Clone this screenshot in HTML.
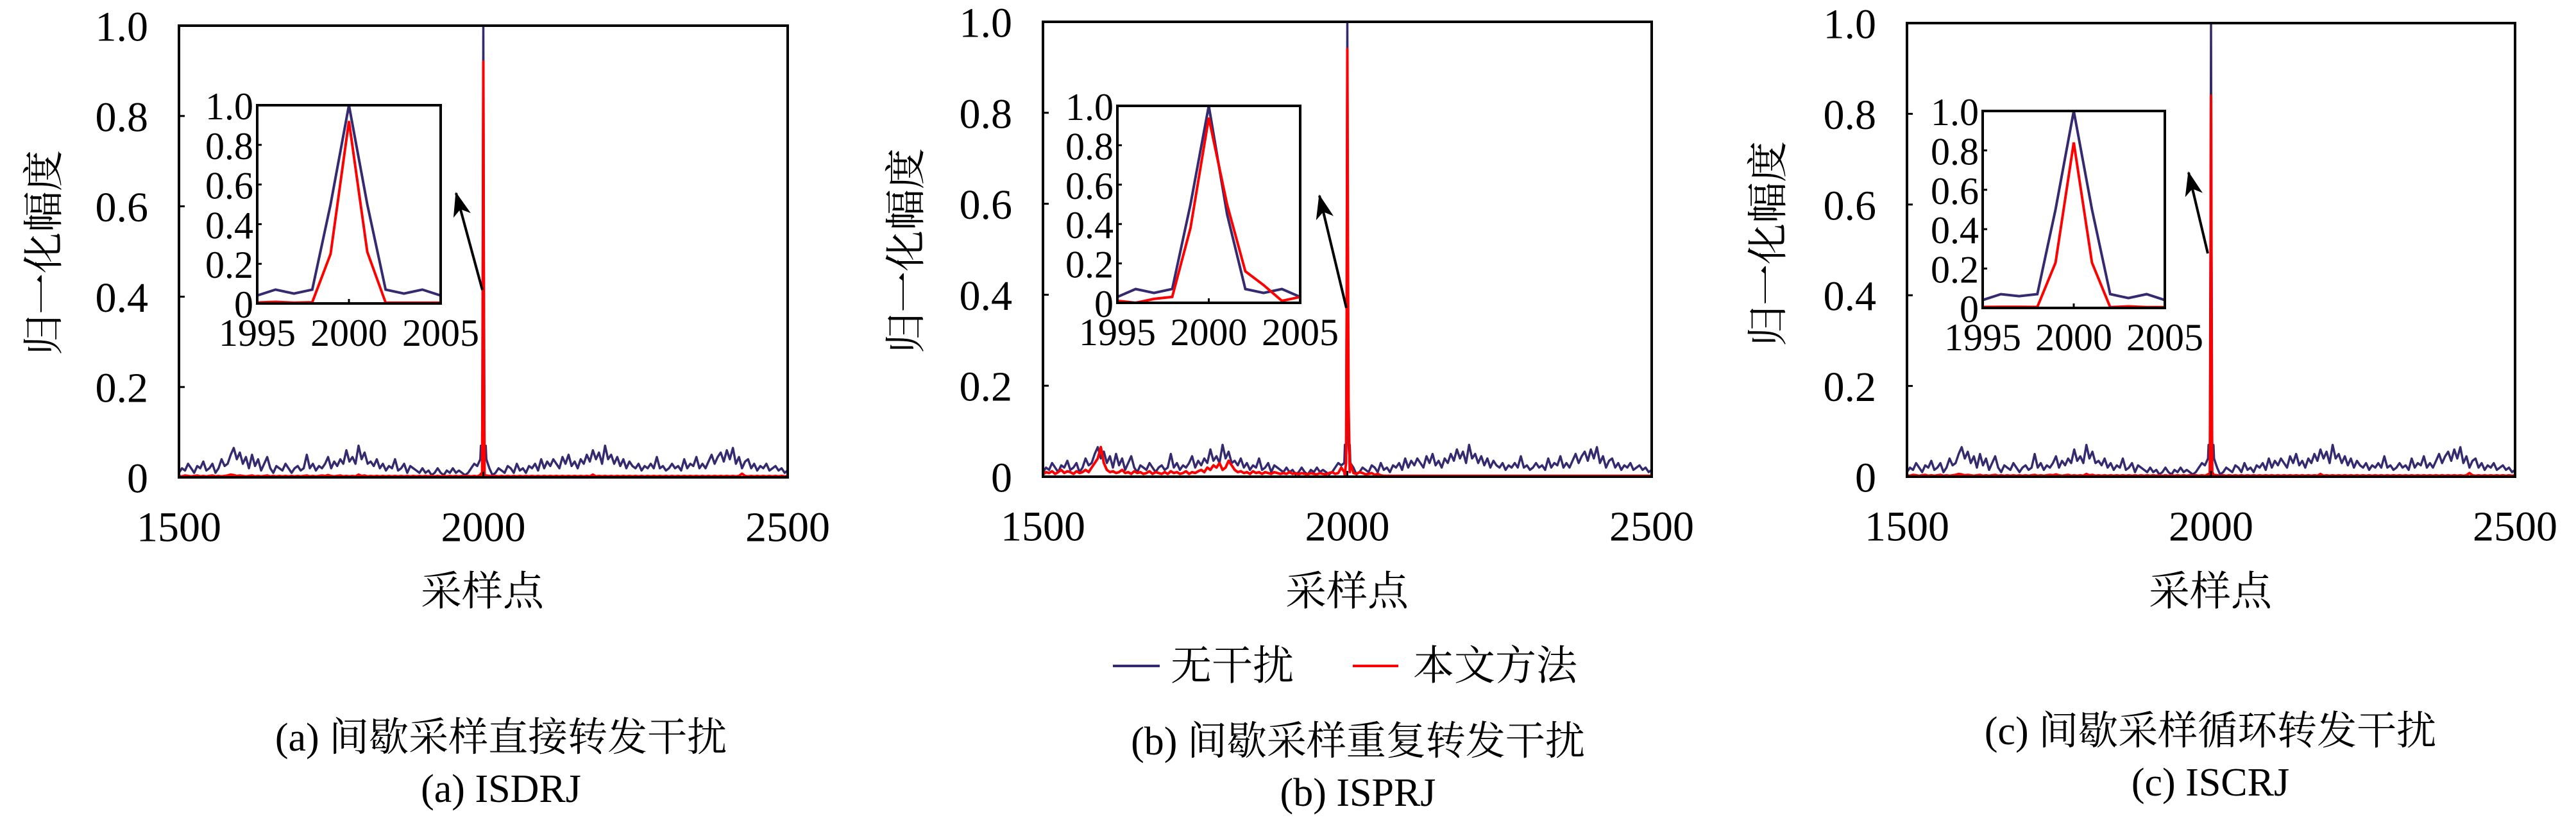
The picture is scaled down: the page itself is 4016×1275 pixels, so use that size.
<!DOCTYPE html>
<html><head><meta charset="utf-8">
<style>
html,body{margin:0;padding:0;background:#fff;}
svg text{font-family:"Liberation Serif","Noto Serif CJK SC","Noto Sans CJK SC",serif;fill:#000;}
</style></head>
<body>
<svg id="fig" width="4016" height="1270" viewBox="0 0 4016 1270" xmlns="http://www.w3.org/2000/svg">
<defs>
<marker id="ah" markerWidth="40" markerHeight="40" refX="36" refY="14" orient="auto" markerUnits="userSpaceOnUse" viewBox="0 0 40 28">
<path d="M0,0 L38,14 L0,28 L10,14 z" fill="#000"/>
</marker>
</defs>
</svg>
<script>
// ---- data ----
const noiseStart = 1500;
const noiseStep = 5;
const blueNoise = [
0.01,0.02,0.015,0.03,0.02,0.01,0.025,0.02,0.035,0.015,0.02,0.03,0.01,0.02,0.04,0.025,0.03,0.05,0.065,0.04,
0.055,0.03,0.045,0.02,0.05,0.025,0.04,0.015,0.03,0.045,0.02,0.01,0.025,0.02,0.015,0.03,0.02,0.01,0.02,0.025,
0.015,0.02,0.05,0.02,0.03,0.015,0.025,0.02,0.03,0.045,0.02,0.035,0.025,0.04,0.03,0.06,0.035,0.045,0.03,0.07,
0.04,0.055,0.03,0.035,0.025,0.04,0.02,0.03,0.015,0.025,0.02,0.04,0.015,0.02,0.03,0.01,0.025,0.02,0.015,0.01,
0.02,0.01,0.015,0.005,0.01,0.02,0.01,0.005,0.015,0.01,0.02,0.01,0.015,0.01,0.005,0.01,0.02,0.03,0.025,0.04,
0.03,0.01,0.02,0.005,0.01,0.02,0.015,0.01,0.025,0.02,0.01,0.03,0.015,0.02,0.01,0.025,0.02,0.03,0.015,0.04,
0.02,0.035,0.025,0.04,0.03,0.02,0.045,0.03,0.05,0.025,0.035,0.02,0.04,0.03,0.05,0.035,0.06,0.04,0.055,0.03,
0.07,0.04,0.05,0.03,0.045,0.025,0.04,0.02,0.035,0.025,0.02,0.03,0.015,0.025,0.02,0.03,0.02,0.045,0.02,0.025,
0.015,0.02,0.03,0.02,0.025,0.015,0.04,0.02,0.03,0.025,0.045,0.02,0.03,0.02,0.035,0.05,0.03,0.045,0.055,0.035,
0.06,0.04,0.065,0.03,0.045,0.02,0.035,0.04,0.02,0.03,0.015,0.025,0.02,0.03,0.015,0.02,0.025,0.015,0.02,0.01,0.015];
const redNoiseAC = [
0.003,0.002,0.004,0.003,0.002,0.003,0.004,0.002,0.003,0.002,0.003,0.004,0.002,0.003,0.002,0.003,0.004,0.006,0.005,0.003,
0.004,0.003,0.002,0.003,0.004,0.002,0.003,0.002,0.003,0.004,0.002,0.003,0.002,0.003,0.002,0.003,0.002,0.003,0.002,0.003,
0.002,0.003,0.004,0.002,0.003,0.002,0.003,0.004,0.003,0.005,0.003,0.002,0.003,0.004,0.002,0.003,0.002,0.003,0.002,0.006,
0.003,0.004,0.002,0.003,0.002,0.003,0.002,0.003,0.002,0.003,0.002,0.003,0.002,0.003,0.002,0.003,0.002,0.003,0.002,0.003,
0.002,0.003,0.002,0.003,0.002,0.003,0.002,0.003,0.002,0.003,0.002,0.003,0.002,0.003,0.002,0.003,0.002,0.003,0.002,0.003,
0.003,0.002,0.003,0.002,0.003,0.002,0.003,0.002,0.003,0.002,0.003,0.002,0.003,0.002,0.003,0.002,0.003,0.002,0.003,0.002,
0.003,0.002,0.003,0.002,0.003,0.002,0.003,0.002,0.003,0.002,0.003,0.002,0.003,0.002,0.003,0.002,0.006,0.002,0.003,0.002,
0.003,0.002,0.003,0.002,0.003,0.002,0.003,0.002,0.003,0.002,0.003,0.002,0.003,0.002,0.003,0.002,0.003,0.002,0.003,0.002,
0.003,0.002,0.003,0.002,0.003,0.002,0.003,0.002,0.003,0.002,0.003,0.002,0.003,0.002,0.003,0.002,0.003,0.002,0.003,0.002,
0.003,0.002,0.003,0.002,0.003,0.008,0.003,0.002,0.003,0.002,0.003,0.002,0.003,0.002,0.003,0.002,0.003,0.002,0.003,0.002,0.003];
const redNoiseB = [
0.005,0.01,0.008,0.012,0.006,0.01,0.015,0.008,0.012,0.01,0.006,0.012,0.008,0.01,0.015,0.01,0.02,0.03,0.04,0.065,
0.03,0.015,0.01,0.012,0.008,0.01,0.015,0.008,0.01,0.006,0.012,0.008,0.01,0.006,0.008,0.012,0.006,0.01,0.008,0.006,
0.01,0.006,0.012,0.008,0.01,0.006,0.008,0.012,0.006,0.01,0.008,0.012,0.015,0.01,0.02,0.015,0.025,0.02,0.03,0.015,
0.02,0.035,0.025,0.015,0.01,0.012,0.008,0.01,0.006,0.012,0.008,0.01,0.006,0.01,0.008,0.006,0.01,0.008,0.006,0.008,
0.006,0.01,0.006,0.008,0.005,0.008,0.006,0.005,0.008,0.006,0.005,0.008,0.006,0.005,0.008,0.01,0.006,0.008,0.02,0.04,
0.03,0.015,0.008,0.006,0.01,0.008,0.005,0.006,0.008,0.004,0.006,0.003,0.002,0.002,0.002,0.002,0.002,0.002,0.002,0.002,
0.002,0.002,0.002,0.002,0.002,0.002,0.002,0.002,0.002,0.002,0.002,0.002,0.002,0.002,0.002,0.002,0.002,0.002,0.002,0.002,
0.002,0.002,0.002,0.002,0.002,0.002,0.002,0.002,0.002,0.002,0.002,0.002,0.002,0.002,0.002,0.002,0.002,0.002,0.002,0.002,
0.002,0.002,0.002,0.002,0.002,0.002,0.002,0.002,0.002,0.002,0.002,0.002,0.002,0.002,0.002,0.002,0.002,0.002,0.002,0.002,
0.002,0.002,0.002,0.002,0.002,0.002,0.002,0.002,0.002,0.002,0.002,0.002,0.002,0.002,0.002,0.002,0.002,0.002,0.002,0.002,0.002];
const peakX = [1995,1996,1997,1998,1999,2000,2001,2002,2003,2004,2005];
const bluePeakA = [0.04,0.07,0.05,0.07,0.5,1.0,0.5,0.07,0.05,0.07,0.04];
const redPeakA  = [0.005,0.008,0.004,0.006,0.25,0.92,0.26,0.004,0.004,0.004,0.004];
const bluePeakB = [0.03,0.07,0.05,0.07,0.5,1.0,0.45,0.07,0.05,0.07,0.03];
const redPeakB  = [0.01,0.0,0.02,0.03,0.38,0.94,0.5,0.16,0.09,0.01,0.03];
const bluePeakC = [0.04,0.07,0.06,0.07,0.5,1.0,0.5,0.07,0.05,0.07,0.04];
const redPeakC  = [0.005,0.006,0.006,0.005,0.23,0.84,0.23,0.004,0.008,0.004,0.004];
const mainYTicks = [0,0.2,0.4,0.6,0.8,1.0];
const mainYLabels = ["0","0.2","0.4","0.6","0.8","1.0"];
const mainXTicks = [1500,2000,2500];
const insetXTicks = [1995,2000,2005];

const panels = [
 {id:'a', L:279,R:1228,T:40,B:744, il:401,ir:687,it:164,ib:473, arrow:[752,452,711,301], ytitle:[69,394],
  xtitle:[752,922], cap:[781,1150,1230], cap1:"(a) 间歇采样直接转发干扰", cap2:"(a) ISDRJ",
  blue:bluePeakA, red:redPeakA, redNoise:redNoiseAC},
 {id:'b', L:1626,R:2575,T:34,B:743, il:1742,ir:2027,it:165,ib:472, arrow:[2099,480,2057,305], ytitle:[1413,391],
  xtitle:[2100,922], cap:[2117,1156,1236], cap1:"(b) 间歇采样重复转发干扰", cap2:"(b) ISPRJ",
  blue:bluePeakB, red:redPeakB, redNoise:redNoiseB},
 {id:'c', L:2973,R:3921,T:36,B:743, il:3091,ir:3375,it:173,ib:480, arrow:[3442,395,3412,269], ytitle:[2757,380],
  xtitle:[3446,922], cap:[3446,1140,1220], cap1:"(c) 间歇采样循环转发干扰", cap2:"(c) ISCRJ",
  blue:bluePeakC, red:redPeakC, redNoise:redNoiseAC}
];
const BLUE = '#35296f', RED = '#ff0000';
const svg = document.getElementById('fig');
const NS = 'http://www.w3.org/2000/svg';
function mk(tag, attrs, parent){ const e=document.createElementNS(NS,tag); for(const k in attrs) e.setAttribute(k,attrs[k]); (parent||svg).appendChild(e); return e; }
function txt(s, x, y, size, anchor, parent){ const t=mk('text',{x:x,y:y,'font-size':size,'text-anchor':anchor||'middle','dominant-baseline':'central'},parent); t.textContent=s; return t; }

function series(noise, peak){
  const pts=[];
  for(let i=0;i<noise.length;i++){ const x=noiseStart+i*noiseStep; if(x<peakX[0]||x>peakX[peakX.length-1]) pts.push([x,noise[i]]); }
  for(let j=0;j<peakX.length;j++) pts.push([peakX[j],peak[j]]);
  pts.sort((a,b)=>a[0]-b[0]);
  return pts;
}

panels.forEach(p=>{
  const g = mk('g',{});
  
  
  const sx = v => p.L + (v-1500)/1000*(p.R-p.L);
  const sy = v => p.B - v*(p.B-p.T);
  const clip = mk('clipPath',{id:'clip'+p.id},g);
  mk('rect',{x:p.L,y:p.T,width:p.R-p.L,height:p.B-p.T},clip);
  const bp = series(blueNoise,p.blue).map(q=>sx(q[0]).toFixed(1)+','+sy(q[1]).toFixed(1)).join(' ');
  const bl = mk('polyline',{points:bp,fill:'none',stroke:BLUE,'stroke-width':3.5,'clip-path':'url(#clip'+p.id+')','stroke-linejoin':'round'},g);
  
  
  const rp = series(p.redNoise,p.red).map(q=>sx(q[0]).toFixed(1)+','+sy(q[1]).toFixed(1)).join(' ');
  const rl = mk('polyline',{points:rp,fill:'none',stroke:RED,'stroke-width':4,'clip-path':'url(#clip'+p.id+')','stroke-linejoin':'round'},g);
  
  
  const box = mk('rect',{x:p.L,y:p.T,width:p.R-p.L,height:p.B-p.T,fill:'none',stroke:'#000','stroke-width':4},g);
  
  
  mainYTicks.forEach((v,i)=>{
    mk('line',{x1:p.L,x2:p.L+9,y1:sy(v),y2:sy(v),stroke:'#000','stroke-width':3},g);
    const t=txt(mainYLabels[i],p.L-48,sy(v)+2,66,'end',g);
    
    
  });
  mainXTicks.forEach(v=>{
    mk('line',{x1:sx(v),x2:sx(v),y1:p.B,y2:p.B-9,stroke:'#000','stroke-width':3},g);
    const t=txt(String(v),sx(v),p.B+78,66,'middle',g);
    
    
  });
  const yt = txt('归一化幅度',0,0,64,'middle',g);
  yt.setAttribute('transform','translate('+p.ytitle[0]+','+p.ytitle[1]+') rotate(-90)');
  
  
  const xt = txt('采样点',p.xtitle[0],p.xtitle[1],64,'middle',g);
  
  
  const ig = mk('g',{},g);
  
  
  mk('rect',{x:p.il,y:p.it,width:p.ir-p.il,height:p.ib-p.it,fill:'#fff'},ig);
  const ix = v => p.il + (v-1995)/10*(p.ir-p.il);
  const iy = v => p.ib - v*(p.ib-p.it);
  const ib = mk('polyline',{points:peakX.map((x,j)=>ix(x).toFixed(1)+','+iy(p.blue[j]).toFixed(1)).join(' '),fill:'none',stroke:BLUE,'stroke-width':4},ig);
  
  
  const ir = mk('polyline',{points:peakX.map((x,j)=>ix(x).toFixed(1)+','+iy(p.red[j]).toFixed(1)).join(' '),fill:'none',stroke:RED,'stroke-width':4},ig);
  
  
  mk('rect',{x:p.il,y:p.it,width:p.ir-p.il,height:p.ib-p.it,fill:'none',stroke:'#000','stroke-width':4},ig);
  mainYTicks.forEach((v,i)=>{
    mk('line',{x1:p.il,x2:p.il+7,y1:iy(v),y2:iy(v),stroke:'#000','stroke-width':3},ig);
    const t=txt(mainYLabels[i],p.il-6,iy(v)+2,60,'end',ig);
    
    
  });
  insetXTicks.forEach(v=>{
    mk('line',{x1:ix(v),x2:ix(v),y1:p.ib,y2:p.ib-7,stroke:'#000','stroke-width':3},ig);
    const t=txt(String(v),ix(v),p.ib+46,60,'middle',ig);
    
    
  });
  const ar = mk('line',{x1:p.arrow[0],y1:p.arrow[1],x2:p.arrow[2],y2:p.arrow[3],stroke:'#000','stroke-width':4,'marker-end':'url(#ah)'},g);
  
  
  const c1 = txt(p.cap1,p.cap[0],p.cap[1],62,'middle',g);
  
  
  const c2 = txt(p.cap2,p.cap[0],p.cap[2],62,'middle',g);
  
  
});
const lg = mk('g',{});


const le1 = mk('g',{},lg);


mk('line',{x1:1735,x2:1808,y1:1038,y2:1038,stroke:BLUE,'stroke-width':4},le1);
txt('无干扰',1825,1038,64,'start',le1);
const le2 = mk('g',{},lg);


mk('line',{x1:2109,x2:2180,y1:1038,y2:1038,stroke:RED,'stroke-width':4},le2);
txt('本文方法',2203,1038,64,'start',le2);
</script>
</body></html>
